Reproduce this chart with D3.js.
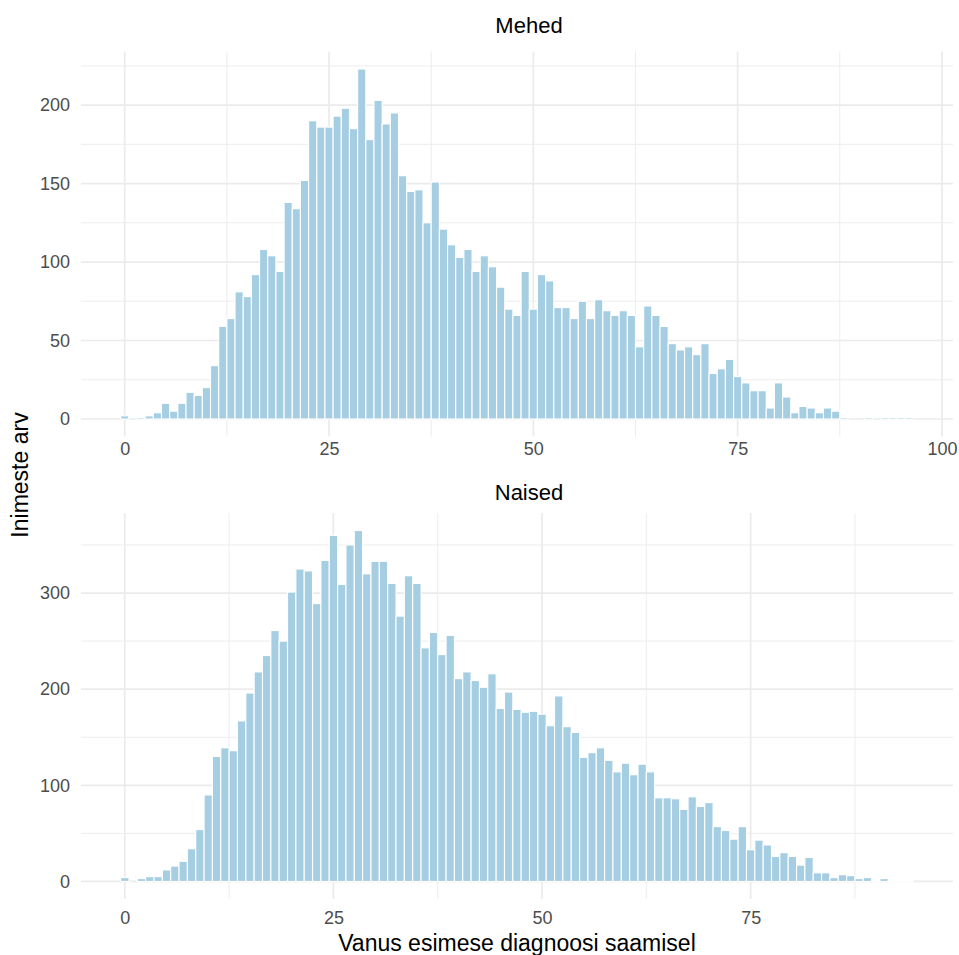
<!DOCTYPE html>
<html>
<head>
<meta charset="utf-8">
<script src="https://cdn.jsdelivr.net/npm/d3@7"></script>
<style>
  html, body { margin: 0; padding: 0; background: #ffffff; }
  svg { display: block; }
  text { font-family: "Liberation Sans", Arial, Helvetica, sans-serif; }
</style>
</head>
<body>
<svg id="chart" width="959" height="955"></svg>
<script>
// ---- data (counts per one-year age bin, first bin = age 0) ----
const menTitle = "Mehed";
const womenTitle = "Naised";
const menCounts = [
  2, 0, 1, 2, 4, 10, 5, 10, 17, 15,
  20, 34, 59, 64, 81, 78, 92, 108, 104, 94,
  138, 134, 152, 190, 186, 186, 193, 198, 185, 223,
  178, 203, 188, 195, 155, 145, 146, 125, 151, 121,
  111, 103, 108, 94, 104, 97, 84, 70, 66, 94,
  70, 92, 88, 71, 71, 64, 75, 64, 76, 69,
  66, 69, 66, 46, 72, 66, 59, 48, 44, 46,
  41, 48, 29, 32, 38, 27, 23, 18, 18, 7,
  23, 14, 4, 8, 7, 4, 7, 5, 1, 0,
  0, 1, 0, 1, 1, 1, 1
];
const womenCounts = [
  4, 0, 3, 5, 5, 12, 16, 21, 34, 54,
  90, 130, 139, 136, 167, 196, 218, 235, 261, 250,
  301, 325, 323, 289, 334, 360, 309, 350, 365, 320,
  333, 333, 310, 276, 318, 310, 243, 259, 236, 256,
  211, 218, 209, 202, 216, 180, 197, 179, 176, 177,
  174, 162, 193, 161, 155, 129, 134, 139, 126, 114,
  123, 111, 122, 114, 87, 87, 86, 75, 88, 78,
  82, 57, 53, 44, 57, 33, 43, 38, 26, 30,
  26, 17, 25, 9, 9, 4, 7, 6, 3, 4,
  1, 3, 1, 1, 1
];
const menXTicks = [0, 25, 50, 75, 100];
const womenXTicks = [0, 25, 50, 75];
const menYTicks = [0, 50, 100, 150, 200];
const womenYTicks = [0, 100, 200, 300];
const xTitle = "Vanus esimese diagnoosi saamisel";
const yTitle = "Inimeste arv";

// ---- layout ----
const svg = d3.select("#chart");
svg.append("rect").attr("width", 959).attr("height", 955).attr("fill", "#ffffff");

const panelLeft = 81, panelRight = 953;
const panels = [
  { title: menTitle, counts: menCounts, xTicks: menXTicks, yTicks: menYTicks,
    top: 51.5, bottom: 436.5, titleY: 25, tickY: 449 },
  { title: womenTitle, counts: womenCounts, xTicks: womenXTicks, yTicks: womenYTicks,
    top: 513, bottom: 899, titleY: 492, tickY: 918 }
];

const barFill = "#a6cee3";
const gridColor = "#ebebeb";

panels.forEach(p => {
  const data = p.counts.map((c, i) => ({ age: i, count: c }));
  const n = data.length;
  const xLo = -0.5, xHi = n - 0.5, xPad = (xHi - xLo) * 0.05;
  const x = d3.scaleLinear().domain([xLo - xPad, xHi + xPad]).range([panelLeft, panelRight]);
  const yMax = d3.max(data, d => d.count);
  const y = d3.scaleLinear().domain([-yMax * 0.05, yMax * 1.05]).range([p.bottom, p.top]);

  const g = svg.append("g");

  // minor grid
  const [dx0, dx1] = x.domain();
  const xMinor = [];
  for (let k = 0; k < p.xTicks.length - 1; k++) xMinor.push((p.xTicks[k] + p.xTicks[k + 1]) / 2);
  const lastX = p.xTicks[p.xTicks.length - 1];
  const stepX = p.xTicks[1] - p.xTicks[0];
  if (lastX + stepX / 2 < dx1) xMinor.push(lastX + stepX / 2);
  const [dy0, dy1] = y.domain();
  const yMinor = [];
  const stepY = p.yTicks[1] - p.yTicks[0];
  for (let k = 0; k < p.yTicks.length; k++) {
    const v = p.yTicks[k] + stepY / 2;
    if (v < dy1) yMinor.push(v);
  }

  g.selectAll(".xminor").data(xMinor).enter().append("line")
    .attr("x1", d => x(d)).attr("x2", d => x(d))
    .attr("y1", p.top).attr("y2", p.bottom)
    .attr("stroke", gridColor).attr("stroke-width", 0.9);
  g.selectAll(".yminor").data(yMinor).enter().append("line")
    .attr("x1", panelLeft).attr("x2", panelRight)
    .attr("y1", d => y(d)).attr("y2", d => y(d))
    .attr("stroke", gridColor).attr("stroke-width", 0.9);
  // major grid
  g.selectAll(".xmajor").data(p.xTicks).enter().append("line")
    .attr("x1", d => x(d)).attr("x2", d => x(d))
    .attr("y1", p.top).attr("y2", p.bottom)
    .attr("stroke", gridColor).attr("stroke-width", 1.7);
  g.selectAll(".ymajor").data(p.yTicks).enter().append("line")
    .attr("x1", panelLeft).attr("x2", panelRight)
    .attr("y1", d => y(d)).attr("y2", d => y(d))
    .attr("stroke", gridColor).attr("stroke-width", 1.7);

  // bars
  g.selectAll(".bar").data(data.filter(d => d.count > 0)).enter().append("rect")
    .attr("x", d => x(d.age - 0.5))
    .attr("width", d => x(d.age + 0.5) - x(d.age - 0.5))
    .attr("y", d => y(d.count))
    .attr("height", d => y(0) - y(d.count))
    .attr("fill", barFill)
    .attr("stroke", "#ffffff")
    .attr("stroke-width", 1.1);

  // axes (labels only, theme_minimal style)
  const xAxis = d3.axisBottom(x).tickValues(p.xTicks).tickSize(0).tickPadding(0);
  const xg = g.append("g").attr("transform", `translate(0,${p.tickY})`).call(xAxis);
  xg.select(".domain").remove();
  xg.selectAll("text").attr("dy", "0.35em").attr("y", 0)
    .attr("font-size", 18).attr("fill", "#4d4d4d")
    .attr("font-family", "'Liberation Sans', Arial, sans-serif");

  const yAxis = d3.axisLeft(y).tickValues(p.yTicks).tickSize(0).tickPadding(0);
  const yg = g.append("g").attr("transform", `translate(70,0)`).call(yAxis);
  yg.select(".domain").remove();
  yg.selectAll("text").attr("x", 0)
    .attr("font-size", 18).attr("fill", "#4d4d4d")
    .attr("font-family", "'Liberation Sans', Arial, sans-serif");

  // strip title
  svg.append("text")
    .attr("x", 529).attr("y", p.titleY).attr("dy", "0.35em")
    .attr("text-anchor", "middle")
    .attr("font-size", 22).attr("fill", "#000000")
    .text(p.title);
});

// axis titles
svg.append("text")
  .attr("x", 517).attr("y", 943).attr("dy", "0.35em")
  .attr("text-anchor", "middle")
  .attr("font-size", 23).attr("fill", "#000000")
  .text(xTitle);

svg.append("text")
  .attr("transform", "translate(20,475) rotate(-90)")
  .attr("dy", "0.35em")
  .attr("text-anchor", "middle")
  .attr("font-size", 23).attr("fill", "#000000")
  .text(yTitle);
</script>
</body>
</html>
